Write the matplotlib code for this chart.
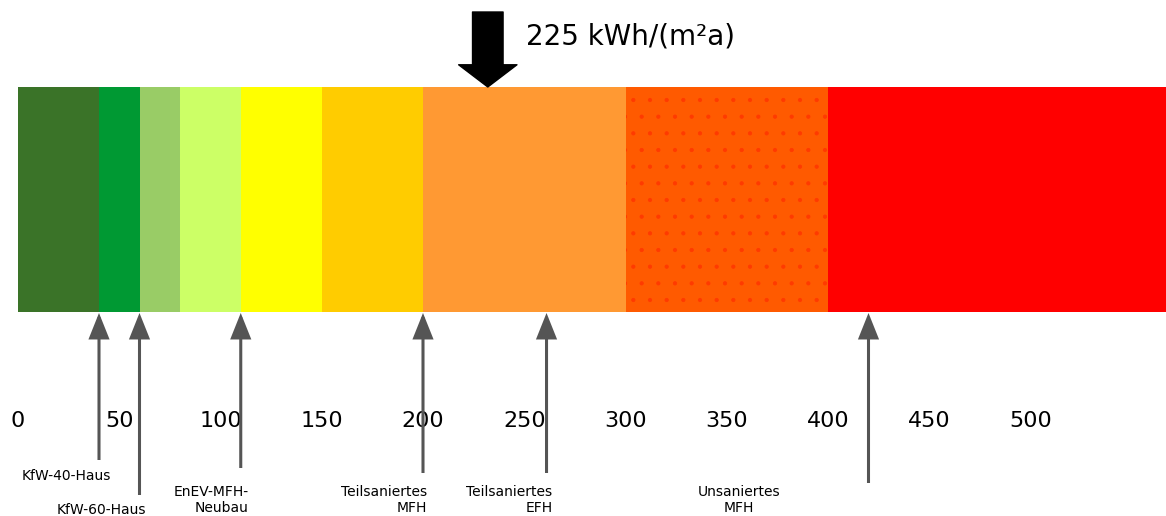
import matplotlib.pyplot as plt
import numpy as np
from matplotlib.patches import Rectangle

# energy classes (kWh/(m²a)) and their colours
band_edges = [0, 40, 60, 80, 110, 150, 200, 300, 400, 567]
band_colors = ["#3a7328", "#009933", "#99cc66", "#ccff66", "#ffff00",
               "#ffcc00", "#ff9933", "#ff5a00", "#ff0000"]

tick_values = [0, 50, 100, 150, 200, 250, 300, 350, 400, 450, 500]

# reference buildings: arrow position, arrow tail (px), label, label x, align
marker_pos = [40, 60, 110, 200, 261, 420]
marker_tail = [460, 495, 468, 473, 473, 483]
label_text = ["KfW-40-Haus", "KfW-60-Haus", "EnEV-MFH-\nNeubau",
              "Teilsaniertes\nMFH", "Teilsaniertes\nEFH", "Unsaniertes\nMFH"]
label_x = [24, 41, 114, 202, 264, 356]
label_y = [476, 510, 500, 500, 500, 500]
label_ha = ["center", "center", "right", "right", "right", "center"]

current_value = 232
current_text = "225 kWh/(m²a)"

fig = plt.figure(figsize=(11.66, 5.16), dpi=100)
ax = fig.add_axes([0, 0, 1, 1])
ax.set_xlim(-18 / 2.025, 1148 / 2.025)
ax.set_ylim(516, 0)
ax.axis("off")

bar_top, bar_bottom = 87, 312
for lo, hi, c in zip(band_edges[:-1], band_edges[1:], band_colors):
    ax.add_patch(Rectangle((lo, bar_top), hi - lo, bar_bottom - bar_top,
                           facecolor=c, edgecolor="none"))

# faint speckle texture on the 300-400 band
plt.rcParams["hatch.linewidth"] = 0.6
ax.add_patch(Rectangle((300, bar_top), 100, bar_bottom - bar_top,
                       facecolor="none", edgecolor="#ff3a00", hatch=".",
                       linewidth=0))

for v in tick_values:
    ax.text(v, 421, str(v), ha="center", va="center", fontsize=16)

for x, tail in zip(marker_pos, marker_tail):
    ax.annotate("", xy=(x, bar_bottom + 1), xytext=(x, tail),
                arrowprops=dict(arrowstyle="-|>,head_length=1.0,head_width=0.4",
                                mutation_scale=15, lw=2.2, color="#555555",
                                joinstyle="miter", capstyle="butt",
                                shrinkA=0, shrinkB=0))

for t, x, y, ha in zip(label_text, label_x, label_y, label_ha):
    ax.text(x, y, t, ha=ha, va="center", fontsize=10, multialignment=ha,
            linespacing=1.25)

# big arrow on top
ax.annotate("", xy=(current_value, bar_top), xytext=(current_value, 12),
            arrowprops=dict(arrowstyle="simple,head_length=1.6,head_width=4.2,tail_width=2.2",
                            mutation_scale=10, color="black",
                            shrinkA=0, shrinkB=0))
ax.text(current_value + 19, 37, current_text, ha="left", va="center",
        fontsize=20)

fig.savefig("out.png", dpi=100)
